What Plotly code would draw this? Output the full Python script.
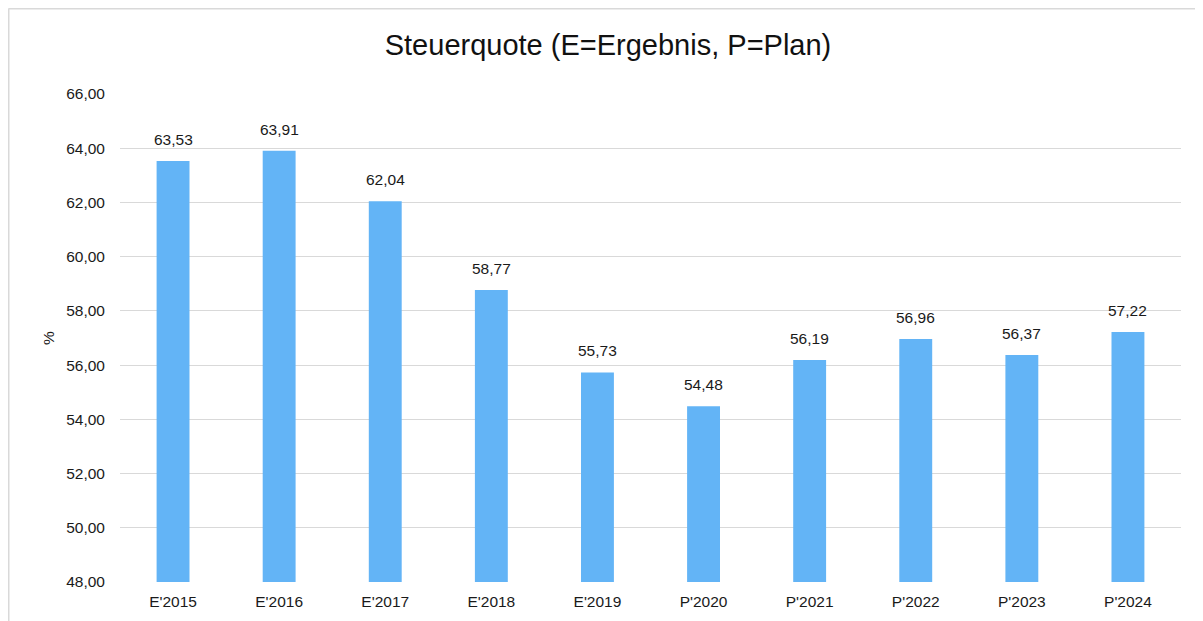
import plotly.graph_objects as go

categories = ["E'2015", "E'2016", "E'2017", "E'2018", "E'2019",
              "P'2020", "P'2021", "P'2022", "P'2023", "P'2024"]
values = [63.53, 63.91, 62.04, 58.77, 55.73, 54.48, 56.19, 56.96, 56.37, 57.22]
y_ticks = [48, 50, 52, 54, 56, 58, 60, 62, 64, 66]

# page body has 8px default margin; figure sized to fit
W, H = 1195, 613
L, R, T, B = 112, 22, 86, 39
pw, ph = W - L - R, H - T - B
FONT = "Liberation Sans, Arial"

fig = go.Figure(go.Bar(
    x=categories, y=values,
    marker=dict(color="#63B4F6", line=dict(width=0)),
    width=0.31,
    hoverinfo="x+y",
))

for c, v in zip(categories, values):
    fig.add_annotation(x=c, y=v, text=f"{v:.2f}".replace(".", ","),
                       showarrow=False, yanchor="bottom", yshift=11,
                       font=dict(size=15.5, color="#1a1a1a", family=FONT))

fig.update_layout(
    width=W, height=H,
    margin=dict(l=L, r=R, t=T, b=B),
    paper_bgcolor="white", plot_bgcolor="white",
    separators=",.",
    font=dict(family=FONT, size=15.5, color="#1a1a1a"),
    title=dict(text="Steuerquote (E=Ergebnis, P=Plan)", x=600 / W, xanchor="center",
               y=1 - 37 / H, yanchor="middle", font=dict(size=29, color="#111")),
    showlegend=False,
    xaxis=dict(showgrid=False, showline=False, ticks="", tickfont=dict(size=15.5),
               ticklabelstandoff=8),
    yaxis=dict(range=[48, 66], tickvals=y_ticks, tickformat=".2f",
               showgrid=True, gridcolor="#D9D9D9", gridwidth=1.4,
               zeroline=False, showline=False, ticks="",
               ticklabelstandoff=14, tickfont=dict(size=15.5),
               title=dict(text="%", font=dict(size=15.5), standoff=7)),
)

# outer chart border (left and top visible)
ytop = (H - B - 0.5) / ph
xleft = (0.5 - L) / pw
fig.add_shape(type="line", xref="paper", yref="paper",
              x0=xleft, x1=(W + 10 - L) / pw, y0=ytop, y1=ytop,
              line=dict(color="#D9D9D9", width=2))
fig.add_shape(type="line", xref="paper", yref="paper",
              x0=xleft, x1=xleft, y0=ytop, y1=-0.2,
              line=dict(color="#D9D9D9", width=2))

fig.write_html("out.html")
